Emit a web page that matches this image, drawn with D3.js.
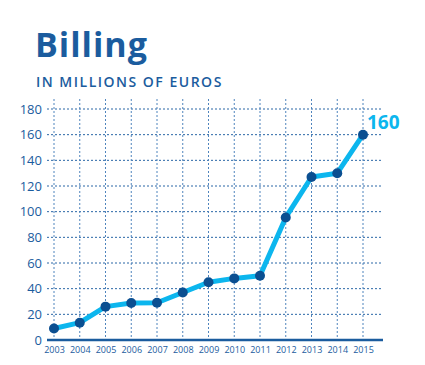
<!DOCTYPE html>
<html>
<head>
<meta charset="utf-8">
<script src="https://cdn.jsdelivr.net/npm/d3@7"></script>
<style>
  body { margin: 0; background: #fff; }
  svg { display: block; font-family: "Open Sans", sans-serif; }
</style>
</head>
<body>
<script>
// data
const years = [2003, 2004, 2005, 2006, 2007, 2008, 2009, 2010, 2011, 2012, 2013, 2014, 2015];
const billing = [9, 13.5, 26, 28.8, 29, 37, 45, 48, 50, 95.5, 127, 130, 160];
const yTicks = [0, 20, 40, 60, 80, 100, 120, 140, 160, 180];

const width = 425, height = 365;
const dark = '#1b5c9e', cyan = '#0cb6ee', dot = '#0b4f91';

const svg = d3.select('body').append('svg')
    .attr('width', width)
    .attr('height', height);

const x = d3.scaleLinear().domain([2003, 2015]).range([54, 363]);
const y = d3.scaleLinear().domain([0, 180]).range([340, 109]);

// title
svg.append('text')
    .attr('x', 35).attr('y', 57)
    .attr('fill', dark)
    .style('font-size', '34px').style('font-weight', 700)
    .style('letter-spacing', '1px')
    .text('Billing');
svg.append('text')
    .attr('x', 36).attr('y', 87)
    .attr('fill', dark)
    .style('font-size', '14px').style('font-weight', 600)
    .style('letter-spacing', '1.5px')
    .text('IN MILLIONS OF EUROS');

// grid
svg.append('g').selectAll('line')
    .data(yTicks.slice(1))
    .join('line')
    .attr('x1', 47).attr('x2', 383)
    .attr('y1', d => y(d)).attr('y2', d => y(d))
    .attr('stroke', '#2a67a6').attr('stroke-width', 1)
    .attr('stroke-dasharray', '2,2');
svg.append('g').selectAll('line')
    .data(years)
    .join('line')
    .attr('x1', d => x(d)).attr('x2', d => x(d))
    .attr('y1', 99).attr('y2', 340)
    .attr('stroke', '#4f84bd').attr('stroke-width', 1)
    .attr('stroke-dasharray', '2,2');

// baseline
svg.append('line')
    .attr('x1', 47).attr('x2', 383)
    .attr('y1', y(0)).attr('y2', y(0))
    .attr('stroke', dark).attr('stroke-width', 2.5);

// axes (labels only)
const yAxis = svg.append('g')
    .attr('transform', 'translate(42,0)')
    .call(d3.axisLeft(y).tickValues(yTicks).tickSize(0).tickPadding(0));
yAxis.select('.domain').remove();
yAxis.selectAll('text')
    .attr('fill', dark)
    .style('font-family', '"Open Sans", sans-serif')
    .style('font-size', '13px');

const xAxis = svg.append('g')
    .attr('transform', 'translate(0,347)')
    .call(d3.axisBottom(x).tickValues(years).tickFormat(d3.format('d')).tickSize(0).tickPadding(0));
xAxis.select('.domain').remove();
xAxis.selectAll('text')
    .attr('fill', dark)
    .style('font-family', '"Open Sans", sans-serif')
    .style('font-size', '9px');

// line + dots
const line = d3.line()
    .x((d, i) => x(years[i]))
    .y(d => y(d));
svg.append('path')
    .datum(billing)
    .attr('d', line)
    .attr('fill', 'none')
    .attr('stroke', cyan)
    .attr('stroke-width', 5)
    .attr('stroke-linejoin', 'round');
svg.append('g').selectAll('circle')
    .data(billing)
    .join('circle')
    .attr('cx', (d, i) => x(years[i]))
    .attr('cy', d => y(d))
    .attr('r', 5)
    .attr('fill', dot);

// last value label
svg.append('text')
    .attr('x', 367).attr('y', 129)
    .attr('fill', cyan)
    .style('font-size', '19px').style('font-weight', 700)
    .text(billing[billing.length - 1]);
</script>
</body>
</html>
